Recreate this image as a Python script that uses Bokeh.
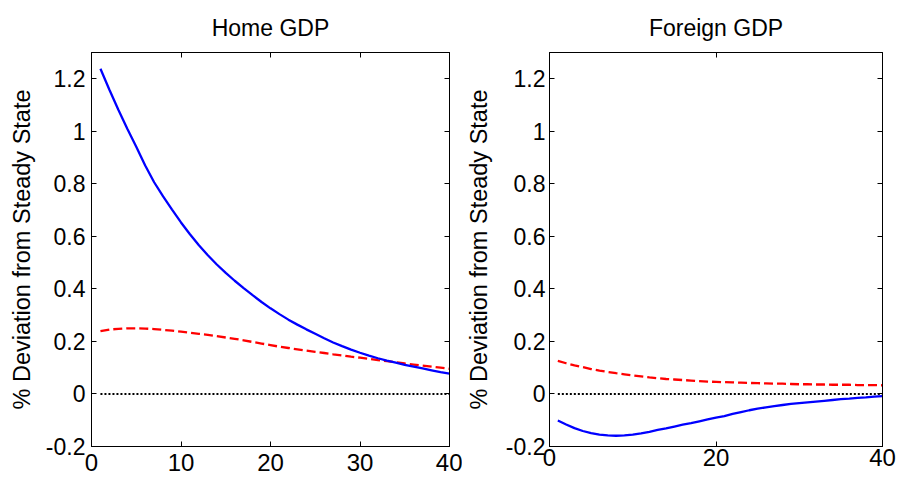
from bokeh.plotting import figure
from bokeh.models import Range1d, FixedTicker, LinearAxis
from bokeh.layouts import row
from bokeh.embed import file_html
from bokeh.resources import INLINE

# ---------------- data ----------------
periods = list(range(1, 41))

home_blue = [1.238, 1.158, 1.082, 1.010, 0.941, 0.870, 0.806, 0.752, 0.702, 0.653,
             0.608, 0.566, 0.528, 0.493, 0.461, 0.431, 0.403, 0.376, 0.350, 0.326,
             0.304, 0.283, 0.264, 0.246, 0.229, 0.212, 0.196, 0.182, 0.169, 0.157,
             0.146, 0.136, 0.127, 0.119, 0.111, 0.104, 0.097, 0.090, 0.083, 0.077]

home_red = [0.239, 0.245, 0.248, 0.250, 0.250, 0.249, 0.247, 0.244, 0.241, 0.237,
            0.233, 0.229, 0.225, 0.220, 0.215, 0.210, 0.204, 0.198, 0.192, 0.186,
            0.180, 0.175, 0.170, 0.165, 0.160, 0.156, 0.151, 0.147, 0.142, 0.138,
            0.134, 0.129, 0.125, 0.121, 0.116, 0.112, 0.108, 0.104, 0.100, 0.096]

foreign_blue = [-0.101, -0.116, -0.130, -0.141, -0.149, -0.155, -0.158, -0.159, -0.158, -0.155,
                -0.150, -0.144, -0.137, -0.131, -0.124, -0.117, -0.111, -0.104, -0.097, -0.090,
                -0.084, -0.076, -0.069, -0.062, -0.056, -0.051, -0.046, -0.042, -0.038, -0.035,
                -0.032, -0.029, -0.026, -0.023, -0.020, -0.018, -0.015, -0.013, -0.010, -0.008]

foreign_red = [0.126, 0.117, 0.109, 0.102, 0.095, 0.089, 0.084, 0.079, 0.075, 0.071,
               0.067, 0.063, 0.060, 0.057, 0.055, 0.053, 0.051, 0.049, 0.047, 0.046,
               0.045, 0.044, 0.043, 0.042, 0.041, 0.040, 0.039, 0.039, 0.038, 0.037,
               0.037, 0.036, 0.036, 0.035, 0.035, 0.035, 0.034, 0.034, 0.034, 0.033]

zero_x = [1, 40]
zero_y = [0, 0]

y_ticks = [-0.2, 0, 0.2, 0.4, 0.6, 0.8, 1.0, 1.2]
y_tick_labels = ["-0.2", "0", "0.2", "0.4", "0.6", "0.8", "1", "1.2"]
home_x_ticks = [0, 10, 20, 30, 40]
foreign_x_ticks = [0, 20, 40]

titles = ["Home GDP", "Foreign GDP"]
y_label = "% Deviation from Steady State"

FONT = "Liberation Sans"


def style_axis(ax, show_labels, standoff=6, size="23px", ticks=None):
    ax.axis_line_color = "black"
    ax.axis_line_width = 1
    ax.major_tick_line_color = "black"
    ax.major_tick_in = 5
    ax.major_tick_out = 0
    ax.minor_tick_line_color = None
    ax.major_label_text_font = FONT
    ax.major_label_text_color = "black"
    if show_labels:
        ax.major_label_text_font_size = size
        ax.major_label_standoff = standoff
    else:
        # mirrored box ticks only (MATLAB "box on"): no labels on this side
        ax.major_label_overrides = {t: "" for t in ticks}
        ax.major_label_text_font_size = "1px"
        ax.major_label_standoff = 0


def make_panel(title, blue, red, xticks, width, bl, br, bb,
               ytick_standoff, ylabel_standoff, xtick_standoff):
    p = figure(width=width, height=481, output_backend="svg", toolbar_location=None,
               x_range=Range1d(0, 40), y_range=Range1d(-0.2, 1.3),
               min_border_left=bl, min_border_right=br, min_border_top=51,
               min_border_bottom=bb)
    p.background_fill_color = "white"
    p.border_fill_color = "white"
    p.outline_line_color = "black"
    p.outline_line_width = 1
    p.grid.visible = False

    p.title.text = title
    p.title.align = "center"
    p.title.text_font = FONT
    p.title.text_font_size = "23px"
    p.title.text_font_style = "normal"
    p.title.text_color = "black"
    p.title.standoff = 24

    p.xaxis.ticker = FixedTicker(ticks=xticks)
    p.yaxis.ticker = FixedTicker(ticks=y_ticks)
    p.yaxis.major_label_overrides = {t: lab for t, lab in zip(y_ticks, y_tick_labels)}
    style_axis(p.xaxis[0], True, xtick_standoff, "24px")
    style_axis(p.yaxis[0], True, ytick_standoff, "23px")
    p.yaxis.axis_label = y_label
    p.yaxis.axis_label_text_font = FONT
    p.yaxis.axis_label_text_font_size = "23.5px"
    p.yaxis.axis_label_text_font_style = "normal"
    p.yaxis.axis_label_text_color = "black"
    p.yaxis.axis_label_standoff = ylabel_standoff

    top = LinearAxis(ticker=FixedTicker(ticks=xticks))
    style_axis(top, False, ticks=xticks)
    p.add_layout(top, "above")
    right = LinearAxis(ticker=FixedTicker(ticks=y_ticks))
    style_axis(right, False, ticks=y_ticks)
    p.add_layout(right, "right")

    p.line(zero_x, zero_y, line_color="black", line_width=2, line_dash="2 2")
    p.line(periods, red, line_color="#ff0000", line_width=2.3, line_dash="9 4")
    p.line(periods, blue, line_color="#0000ff", line_width=2.3)
    return p


p1 = make_panel(titles[0], home_blue, home_red, home_x_ticks, 462, 91, 13, 35, 6, 8, 7)
p2 = make_panel(titles[1], foreign_blue, foreign_red, foreign_x_ticks, 439, 79, 19, 31, 4, 11, 2)

layout = row(p1, p2)
open("out.html", "w").write(file_html(layout, INLINE))
